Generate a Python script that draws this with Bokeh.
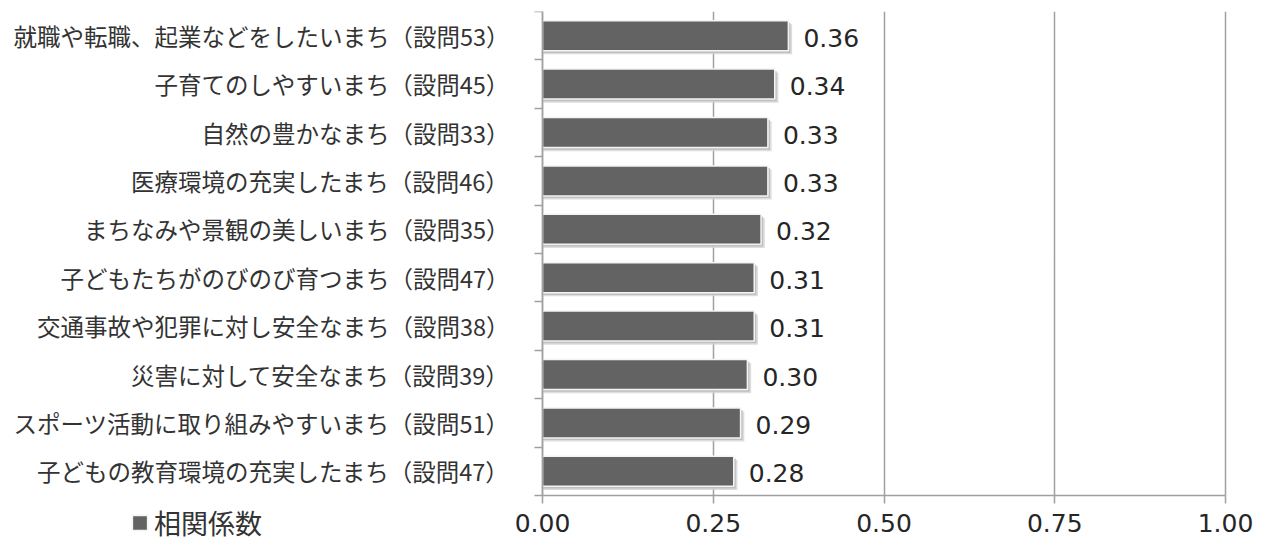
from bokeh.plotting import figure
from bokeh.models import Range1d, FixedTicker, Legend, LegendItem, ColumnDataSource, BoxAnnotation
from bokeh.core.properties import value
from bokeh.embed import file_html
from bokeh.resources import INLINE

categories = [
    "就職や転職、起業などをしたいまち（設問53）",
    "子育てのしやすいまち（設問45）",
    "自然の豊かなまち（設問33）",
    "医療環境の充実したまち（設問46）",
    "まちなみや景観の美しいまち（設問35）",
    "子どもたちがのびのび育つまち（設問47）",
    "交通事故や犯罪に対し安全なまち（設問38）",
    "災害に対して安全なまち（設問39）",
    "スポーツ活動に取り組みやすいまち（設問51）",
    "子どもの教育環境の充実したまち（設問47）",
]
values = [0.36, 0.34, 0.33, 0.33, 0.32, 0.31, 0.31, 0.30, 0.29, 0.28]
series_name = "相関係数"
x_ticks = [0.0, 0.25, 0.5, 0.75, 1.0]
x_tick_labels = ["0.00", "0.25", "0.50", "0.75", "1.00"]

n = len(categories)
centers = [i + 0.5 for i in range(n)]
bounds = [float(i) for i in range(n + 1)]

# layout (pixels)
W, H = 1260, 542
TOP = 11
X0_PX = 542          # where value 0 sits
X1_PX = 1225         # where value 1 sits
CAT_BOTTOM_PX = 495  # where the category block ends
ppu_x = X1_PX - X0_PX
ppu_y = (CAT_BOTTOM_PX - TOP) / n

src = ColumnDataSource(dict(
    y=centers,
    v=values,
    lbl=["{:.2f}".format(v) for v in values],
    ys1=[c + 0.075 for c in centers],
    vs1=[v + 0.0055 for v in values],
    ys2=[c + 0.045 for c in centers],
    vs2=[v + 0.0030 for v in values],
))

GRAY = "#a0a0a0"
JP = "Noto Sans CJK JP"
NUM = "DejaVu Sans"

p = figure(width=W, height=H, output_backend="svg", toolbar_location=None,
           x_range=Range1d(-X0_PX / ppu_x, (W - X0_PX) / ppu_x),
           y_range=Range1d(n + (H - CAT_BOTTOM_PX) / ppu_y, 0),
           min_border_left=0, min_border_right=0, min_border_top=TOP,
           min_border_bottom=0)
p.outline_line_color = None
p.background_fill_color = "white"
p.border_fill_color = "white"

p.xgrid.grid_line_color = GRAY
p.xgrid.grid_line_width = 1.5
p.ygrid.grid_line_color = None

# hide grid below the category block
p.add_layout(BoxAnnotation(top=n, fill_color="white", fill_alpha=1.0,
                           line_color=None, level="underlay"))

# shadows
p.hbar(y="ys1", left=0, right="vs1", height=0.62, source=src,
       fill_color="#d4d4d4", line_color=None, fill_alpha=0.8)
p.hbar(y="ys2", left=0, right="vs2", height=0.62, source=src,
       fill_color="#b8b8b8", line_color=None, fill_alpha=0.8)
bars = p.hbar(y="y", left=0, right="v", height=0.62, source=src,
              fill_color="#636363", line_color="#f4f4f4", line_width=1.5)

p.text(x="v", y="y", text="lbl", source=src, x_offset=15, y_offset=2,
       text_baseline="middle", text_align="left",
       text_font=value(NUM), text_font_size="25px", text_color="#262626")

# x axis at the bottom of the category block
xa = p.xaxis[0]
xa.fixed_location = n
xa.bounds = (0, 1)
xa.ticker = FixedTicker(ticks=x_ticks)
xa.major_label_overrides = dict(zip(x_ticks, x_tick_labels))
xa.axis_line_color = GRAY
xa.axis_line_width = 1.5
xa.major_tick_line_color = GRAY
xa.major_tick_line_width = 1.5
xa.major_tick_out = 8
xa.major_tick_in = 0
xa.minor_tick_line_color = None
xa.major_label_text_font = NUM
xa.major_label_text_font_size = "25px"
xa.major_label_text_color = "#262626"
xa.major_label_standoff = 10

# y axis at value 0
ya = p.yaxis[0]
ya.fixed_location = 0
ya.bounds = (0, n)
ya.ticker = FixedTicker(ticks=centers, minor_ticks=bounds)
ya.major_label_overrides = dict(zip(centers, categories))
ya.axis_line_color = GRAY
ya.axis_line_width = 1.5
ya.major_tick_line_color = None
ya.major_tick_out = 0
ya.major_tick_in = 0
ya.minor_tick_line_color = GRAY
ya.minor_tick_line_width = 1.5
ya.minor_tick_out = 8
ya.minor_tick_in = 0
ya.major_label_text_font = JP
ya.major_label_text_font_size = "23.5px"
ya.major_label_text_color = "#333333"
ya.major_label_standoff = 25

legend = Legend(items=[LegendItem(label=series_name, renderers=[bars])],
                location=(130, 0), orientation="horizontal",
                glyph_width=19, glyph_height=19, label_standoff=5,
                padding=0, margin=0, border_line_color=None,
                background_fill_alpha=0,
                label_text_font=JP, label_text_font_size="27px",
                label_text_color="#333333")
p.add_layout(legend)

open("out.html", "w").write(file_html(p, INLINE))
